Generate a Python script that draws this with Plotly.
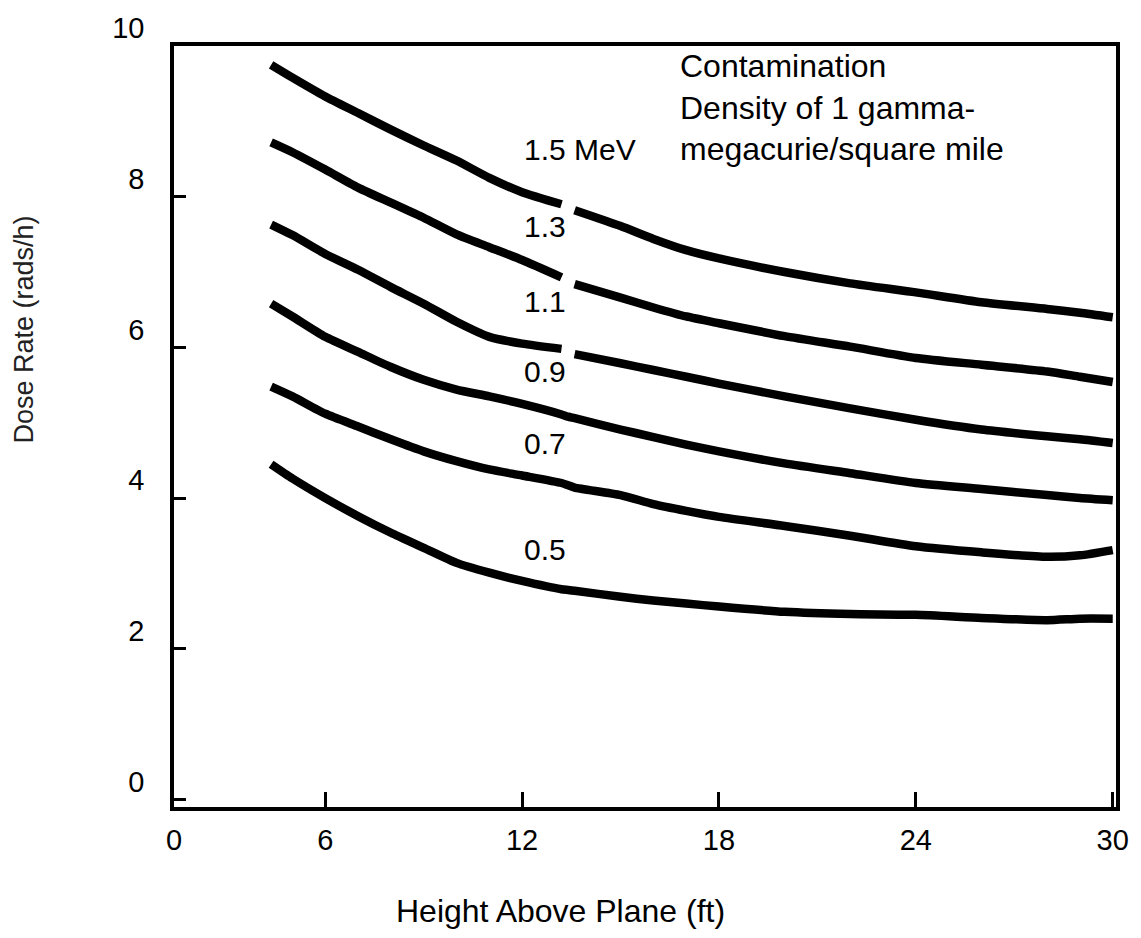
import plotly.graph_objects as go

# Height above the contaminated plane (ft); the None rows mark the pen lifts
# where a curve label sits on the line.
height_ft = [4.35, 5, 6, 7, 8, 9, 10, 11, 12, 13.2, 13.4, 13.6,
             15, 16, 17, 18, 20, 22, 24, 26, 28, 29, 30]

# Dose rate (rads/h) for each photon energy
dose_15 = [9.75, 9.58, 9.33, 9.11, 8.89, 8.68, 8.48, 8.25, 8.06, 7.90, None, 7.82,
           7.61, 7.44, 7.29, 7.18, 7.00, 6.85, 6.73, 6.60, 6.51, 6.46, 6.40]
dose_13 = [8.72, 8.59, 8.36, 8.12, 7.92, 7.72, 7.50, 7.33, 7.16, 6.93, None, 6.84,
           6.66, 6.53, 6.41, 6.32, 6.15, 6.01, 5.86, 5.77, 5.68, 5.61, 5.54]
dose_11 = [7.63, 7.49, 7.24, 7.03, 6.80, 6.58, 6.34, 6.14, 6.05, 5.98, None, 5.91,
           5.79, 5.70, 5.61, 5.52, 5.35, 5.19, 5.04, 4.91, 4.82, 4.78, 4.73]
dose_09 = [6.58, 6.41, 6.14, 5.94, 5.74, 5.57, 5.44, 5.35, 5.25, 5.11, 5.08, 5.06,
           4.91, 4.81, 4.71, 4.62, 4.46, 4.33, 4.20, 4.12, 4.04, 4.00, 3.97]
dose_07 = [5.48, 5.35, 5.12, 4.95, 4.78, 4.62, 4.49, 4.38, 4.30, 4.20, 4.17, 4.14,
           4.04, 3.92, 3.83, 3.75, 3.63, 3.50, 3.36, 3.28, 3.22, 3.24, 3.31]
dose_05 = [4.45, 4.26, 4.00, 3.76, 3.54, 3.34, 3.14, 3.01, 2.90, 2.79, 2.78, 2.77,
           2.69, 2.64, 2.60, 2.56, 2.49, 2.46, 2.45, 2.41, 2.38, 2.40, 2.40]

energy_labels = ["1.5 MeV", "1.3", "1.1", "0.9", "0.7", "0.5"]
series = [dose_15, dose_13, dose_11, dose_09, dose_07, dose_05]

x_tick_vals = [1.39, 6, 12, 18, 24, 30]
x_tick_text = ["0", "6", "12", "18", "24", "30"]
y_tick_vals = [0, 2, 4, 6, 8, 10]
y_tick_text = ["0", "2", "4", "6", "8", "10"]

note_lines = ["Contamination", "Density of 1 gamma-", "megacurie/square mile"]

FONT = "Liberation Sans, Arial, sans-serif"

fig = go.Figure()
for name, ys in zip(energy_labels, series):
    fig.add_trace(go.Scatter(
        x=height_ft, y=ys, mode="lines", name=name,
        line=dict(color="black", width=8.5, shape="spline", smoothing=0.6),
        connectgaps=False, showlegend=False, hoverinfo="skip",
    ))

# Energy labels written just beside the curves, near 12 ft
label_y = [8.62, 7.60, 6.61, 5.68, 4.73, 3.32]
for text, ly in zip(energy_labels, label_y):
    fig.add_annotation(x=12.0, y=ly, text=text, showarrow=False,
                       xanchor="left", yanchor="middle",
                       font=dict(family=FONT, size=30, color="black"))

fig.add_annotation(x=16.75, y=10.0, xanchor="left", yanchor="top",
                   text="<br>".join(note_lines), align="left", showarrow=False,
                   font=dict(family=FONT, size=32, color="black"))

# Axis titles
fig.add_annotation(xref="paper", yref="paper", x=0.41, y=-0.137,
                   xanchor="center", yanchor="middle",
                   text="Height Above Plane (ft)", showarrow=False,
                   font=dict(family=FONT, size=32, color="black"))
fig.add_annotation(xref="paper", yref="paper", x=-0.1595, y=0.627,
                   xanchor="center", yanchor="middle",
                   text="Dose Rate (rads/h)", textangle=-90, showarrow=False,
                   font=dict(family=FONT, size=27, color="#222"))

fig.update_xaxes(range=[1.39, 30.1], tickvals=x_tick_vals, ticktext=x_tick_text,
                 ticks="inside", ticklen=15, tickwidth=3, tickcolor="black",
                 showline=True, linewidth=3.5, linecolor="black", mirror=True,
                 showgrid=False, zeroline=False, ticklabelstandoff=4,
                 ticklabeloverflow="allow",
                 tickfont=dict(family=FONT, size=29, color="black"))
fig.update_yaxes(range=[-0.1, 10], tickvals=y_tick_vals, ticktext=y_tick_text,
                 ticks="inside", ticklen=12, tickwidth=3, tickcolor="black",
                 showline=True, linewidth=3.5, linecolor="black", mirror=True,
                 showgrid=False, zeroline=False, ticklabelstandoff=20,
                 ticklabelshift=-18, ticklabeloverflow="allow",
                 tickfont=dict(family=FONT, size=29, color="black"))

fig.update_layout(width=1141, height=938, autosize=False,
                  margin=dict(l=174, r=14, t=43, b=131),
                  paper_bgcolor="white", plot_bgcolor="white")

fig.write_html("out.html")
